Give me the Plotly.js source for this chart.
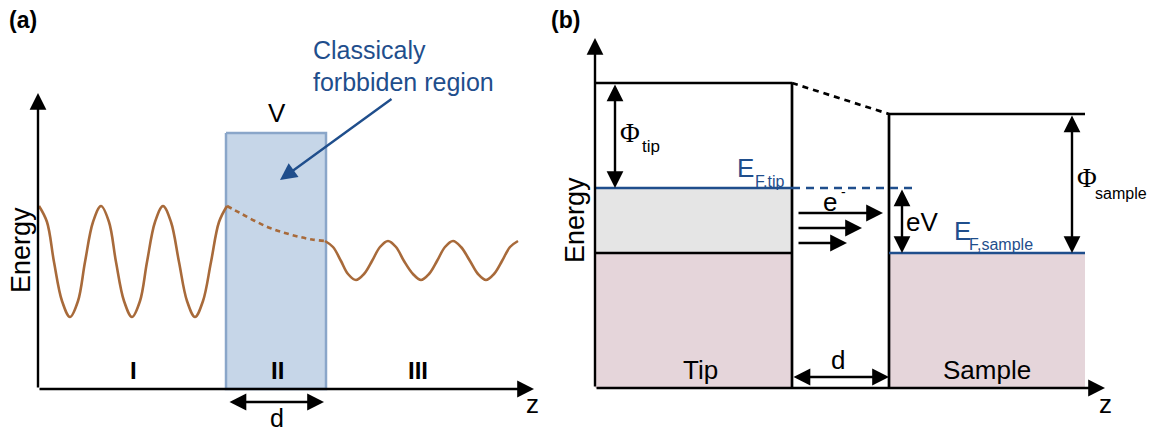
<!DOCTYPE html>
<html>
<head>
<meta charset="utf-8">
<script src="https://cdn.plot.ly/plotly-3.0.1.min.js"></script>
<style>html,body{margin:0;padding:0;background:#fff;}#chart{width:1152px;height:434px;}</style>
</head>
<body>
<div id="chart"></div>
<script>
// ---------- Panel (a): wavefunction ----------
const waveIx   = [39,47,54,62,70,78,85,93,101,109,116,124,132,140,147,155,163,171,179,187,195,203,211,219,227];
const waveIy   = [206,222,262,301,317,301,262,222,206,222,262,301,317,301,262,222,206,222,262,301,317,301,262,222,206];
const waveIIx  = [227,240,255,270,285,300,312,325];
const waveIIy  = [206,213,221,228,233,237,239.5,241];
const waveIIIx = [325,333,341,348,356,364,372,380,388,396,404,413,421,429,437,445,453,461,470,478,486,494,502,510,518];
const waveIIIy = [241,247,261,274,280,274,261,247,241,247,261,274,280,274,261,247,241,247,261,274,280,274,261,247,241];
const barrierX = [226, 326];          // left, right edge of barrier
const barrierY = [133, 389];          // top (V), bottom (z axis)
const axisA    = [38, 93, 534];       // y-axis x, y-axis top, x-axis end
const regionLabels = ['I','II','III'];
const regionX      = [133, 277, 418];

// ---------- Panel (b): energy levels ----------
const bX          = [595, 792, 889, 1085];   // axis, tip right, sample left, sample right
const tipLevels   = [83, 188, 253];          // vacuum, E_F,tip, band bottom
const sampleLevels= [114, 253];              // vacuum, E_F,sample
const baseY       = 388;
const axisB       = [38, 1105];              // y-axis top, x-axis end
const tunnelHeads = [883, 862, 847];
const tunnelY     = [213, 228, 243];

const BLUE = '#1f4e8c', BROWN = '#a86a3a', FONT = 'Liberation Sans, Arial, sans-serif';
const SERIF = 'Liberation Serif, Times New Roman, serif';

const traces = [];
function line(x, y, color, width, dash, shape) {
  traces.push({x, y, type:'scatter', mode:'lines', hoverinfo:'skip',
    line:{color, width, dash: dash || 'solid', shape: shape || 'linear', smoothing: 1}});
}
function rect(x0, x1, y0, y1, fill, lc, lw) {
  traces.push({x:[x0,x1,x1,x0,x0], y:[y0,y0,y1,y1,y0], type:'scatter', mode:'lines',
    fill:'toself', fillcolor: fill, hoverinfo:'skip',
    line:{color: lc || 'rgba(0,0,0,0)', width: lw || 0}});
}

// Panel (a)
rect(barrierX[0], barrierX[1], barrierY[0], barrierY[1], '#c6d6e8', '#8aa6c9', 2.5);
line(waveIx, waveIy, BROWN, 2.6, 'solid', 'spline');
line(waveIIx, waveIIy, BROWN, 2.6, '5px,4px', 'spline');
line(waveIIIx, waveIIIy, BROWN, 2.6, 'solid', 'spline');

// Panel (b)
rect(bX[0], bX[1], tipLevels[1], tipLevels[2], '#e5e5e5');
rect(bX[0], bX[1], tipLevels[2], baseY, '#e5d5da');
rect(bX[2], bX[3], sampleLevels[1], baseY, '#e5d5da');
line([bX[0], bX[1]], [tipLevels[0], tipLevels[0]], '#000', 2.7);
line([bX[1], bX[1]], [tipLevels[0], baseY], '#000', 2.7);
line([bX[1], bX[2]], [tipLevels[0], sampleLevels[0]], '#000', 2.7, '6px,5px');
line([bX[2], bX[3]], [sampleLevels[0], sampleLevels[0]], '#000', 2.7);
line([bX[2], bX[2]], [sampleLevels[0], baseY], '#000', 2.7);
line([bX[0], bX[1]], [tipLevels[2], tipLevels[2]], '#000', 2.7);
line([bX[0], bX[1]], [tipLevels[1], tipLevels[1]], BLUE, 2.3);
line([bX[1], 915], [tipLevels[1], tipLevels[1]], BLUE, 2.3, '8px,6px');
line([bX[2], bX[3]], [sampleLevels[1], sampleLevels[1]], BLUE, 2.3);

const ann = [];
function arrow(x, y, ax, ay, opts) {
  opts = opts || {};
  ann.push({x, y, ax, ay, xref:'x', yref:'y', axref:'x', ayref:'y', text:'', showarrow:true,
    arrowhead: 2, arrowsize: opts.size || 1.4, arrowwidth: opts.width || 2.4,
    arrowcolor: opts.color || '#000', standoff: 0, startstandoff: 0,
    arrowside: opts.both ? 'end+start' : 'end'});
}
function txt(text, x, y, size, opts) {
  opts = opts || {};
  ann.push({x, y, xref:'x', yref:'y', text, showarrow:false,
    xanchor: opts.xa || 'center', yanchor: opts.ya || 'middle', textangle: opts.angle || 0,
    borderpad: 0,
    font:{family: opts.family || FONT, size, color: opts.color || '#000', weight: opts.bold ? 'bold' : 'normal'}});
}

// Axes (a)
arrow(axisA[0], axisA[1], axisA[0], barrierY[1]);
arrow(axisA[2], barrierY[1], axisA[0], barrierY[1]);
arrow(barrierX[1] - 2, 402, barrierX[0] + 2, 402, {both:true});
arrow(280, 180, 393, 98, {color: BLUE});

// Axes (b)
arrow(bX[0], axisB[0], bX[0], baseY);
arrow(axisB[1], baseY, bX[0], baseY);
arrow(615, tipLevels[1], 615, tipLevels[0], {both:true});
arrow(1072, sampleLevels[1], 1072, sampleLevels[0], {both:true});
arrow(902, sampleLevels[1], 902, tipLevels[1], {both:true});
arrow(bX[2], 377, bX[1], 377, {both:true});
tunnelHeads.forEach((h, i) => arrow(h, tunnelY[i], 797, tunnelY[i]));

// Texts (a)
txt('(a)', 23, 20, 23, {bold:true});
txt('Classicaly', 312, 50, 25, {xa:'left', color: BLUE});
txt('forbbiden region', 312, 82, 25, {xa:'left', color: BLUE});
txt('V', 277, 113, 26);
regionLabels.forEach((t, i) => txt(t, regionX[i], 370, 24, {bold:true}));
txt('d', 277, 433, 25, {ya:'bottom'});
txt('z', 532, 404, 26);
txt('Energy', 21, 250, 27, {angle:-90});

// Texts (b)
txt('(b)', 565, 20, 23, {bold:true});
txt('Energy', 575, 220, 27, {angle:-90});
txt('Φ', 630, 133, 27, {family: SERIF});
txt('tip', 651, 146, 17);
txt('E', 745, 168, 26, {color: BLUE});
txt('F,tip', 769, 181, 16, {color: BLUE});
txt('e', 830, 202, 26);
txt('-', 843, 192, 14);
txt('eV', 922, 222, 26);
txt('E', 962, 231, 26, {color: BLUE});
txt('F,sample', 1001, 244, 16, {color: BLUE});
txt('Φ', 1087, 178, 27, {family: SERIF});
txt('sample', 1121, 193, 16);
txt('Tip', 700, 370, 26);
txt('Sample', 987, 370, 26);
txt('d', 838, 360, 26);
txt('z', 1105, 404, 26);

const layout = {
  width: 1152, height: 434, margin:{l:0, r:0, t:0, b:0},
  paper_bgcolor:'#fff', plot_bgcolor:'#fff', showlegend:false,
  xaxis:{range:[0,1152], visible:false, fixedrange:true},
  yaxis:{range:[434,0], visible:false, fixedrange:true},
  annotations: ann
};
Plotly.newPlot('chart', traces, layout, {staticPlot:true, displayModeBar:false});
</script>
</body>
</html>
